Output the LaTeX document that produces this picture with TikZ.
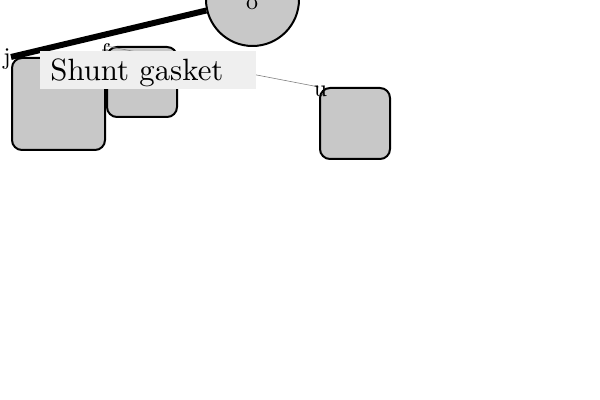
\documentclass[tikz,border=0pt]{standalone}
\usepackage{tikz}
\usepackage{graphicx}
\usepackage{amsmath,amssymb}
\usetikzlibrary{arrows.meta}

\definecolor{partgray}{HTML}{C8C8C8}
\definecolor{tagbg}{HTML}{EFEFEF}

\newcommand{\pieceletter}[1]{\scalebox{1.2}{#1}}

\tikzset{
    part/.style={
        rectangle,
        rounded corners=5pt,
        draw=black,
        line width=1pt,
        fill=partgray,
        inner sep=0pt},
    partlabel/.style={
        inner sep=0pt,
        node font={\normalsize}}
}

\begin{document}
\begin{tikzpicture}[x=0.5pt, y=-0.5pt]
    \useasboundingbox (0,0) rectangle (600,400);

    \node[
        part,
        minimum width=46.5pt,
        minimum height=46pt]
        (J) at (58.5,104) {};

    \node[
        part,
        minimum width=35pt,
        minimum height=35pt]
        (F) at (142,82) {};

    \node[
        part,
        minimum width=35pt,
        minimum height=35.5pt]
        (U) at (355,123.5) {};

    \node[
        circle,
        draw=black,
        line width=1pt,
        fill=partgray,
        minimum size=46.5pt,
        inner sep=0pt]
        (O) at (252.5,-0.5) {};

    \draw[line width=3pt] (J.north west) -- (O);
    \draw[gray, line width=0.3pt] (F.north west) -- (U.north west);

    \node[partlabel] (j) at (7,59) {\pieceletter{j}};
    \node[partlabel] (f) at (105,52) {\pieceletter{f}};
    \node[partlabel] (o) at (252,4.5) {\pieceletter{o}};

    \node[
        rectangle,
        fill=tagbg,
        anchor=north west,
        text width=98pt,
        align=left,
        inner xsep=5pt,
        inner ysep=3.5pt,
        text height=11pt,
        text depth=1pt]
        (tag) at (40,51) {\scalebox{1.54}{Shunt gasket}};

    \node[partlabel] (u) at (320.5,91.5) {\pieceletter{u}};
\end{tikzpicture}
\end{document}
